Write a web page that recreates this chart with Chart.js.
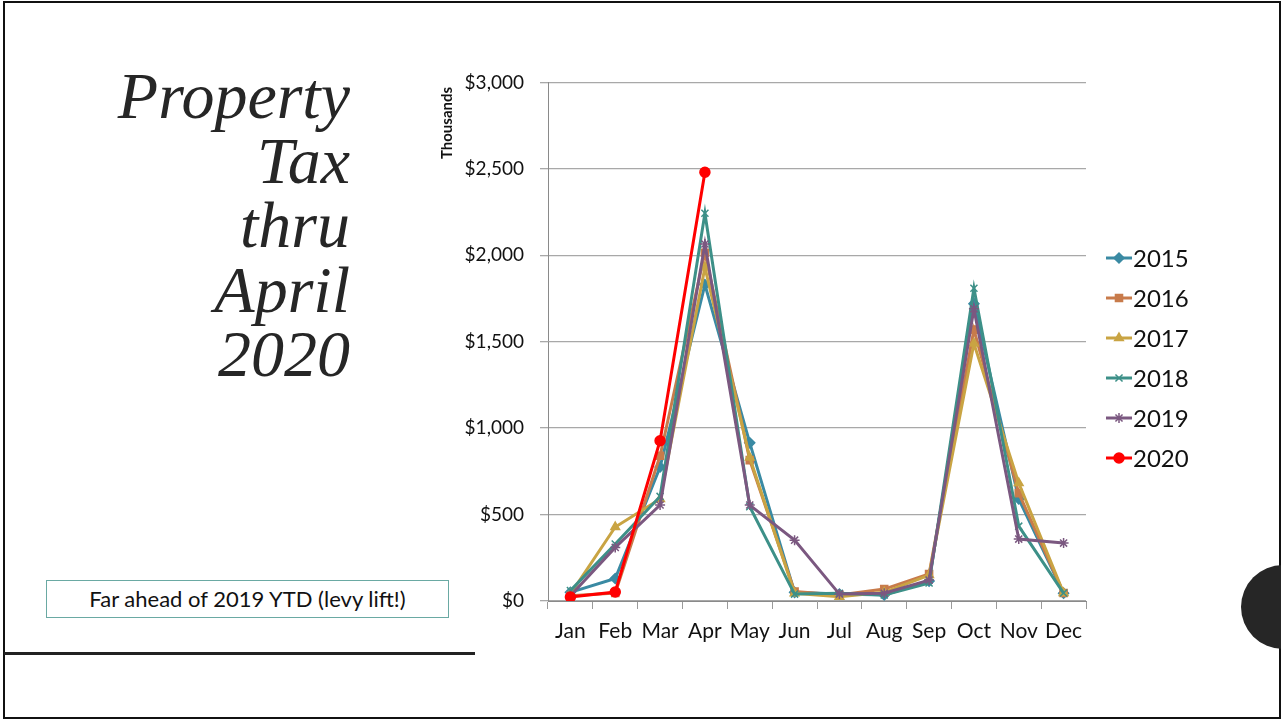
<!DOCTYPE html>
<html>
<head>
<meta charset="utf-8">
<script src="https://cdn.jsdelivr.net/npm/chart.js@4/dist/chart.umd.min.js"></script>
<style>
  html, body { margin: 0; padding: 0; background: #fff; }
  #slide { position: relative; width: 1281px; height: 719px; overflow: hidden; background: #fff; }
  #frame { position: absolute; left: 3px; top: 1px; width: 1274px; height: 714px; border: 2px solid #111; }
  #rule { position: absolute; left: 4px; top: 652px; width: 471px; height: 3px; background: #222; }
  #dot { position: absolute; left: 1241px; top: 565px; width: 84px; height: 84px; border-radius: 50%; background: #262626; }
  #title { position: absolute; right: 931px; top: 64px; text-align: right; font-family: "Liberation Serif", serif; font-style: italic; font-size: 66px; line-height: 64.5px; color: #262626; }
  #note { position: absolute; left: 46px; top: 580px; width: 403px; height: 38px; border: 1px solid #6aa9a3; box-sizing: border-box; font-family: Lato, sans-serif; font-size: 22px; line-height: 36px; text-align: center; color: #111; }
  #wrap { position: absolute; left: 420px; top: 55px; width: 861px; height: 605px; }
</style>
</head>
<body>
<div id="slide">
  <div id="frame"></div>
  <div id="rule"></div>
  <div id="title">Property<br>Tax<br>thru<br>April<br>2020</div>
  <div id="note">Far ahead of 2019 YTD (levy lift!)</div>
  <div id="wrap"><canvas id="taxChart" width="861" height="605"></canvas></div>
  <div id="dot"></div>
</div>
<script>
const meses = ["Jan", "Feb", "Mar", "Apr", "May", "Jun", "Jul", "Aug", "Sep", "Oct", "Nov", "Dec"];
const anios = ["2015", "2016", "2017", "2018", "2019", "2020"];
const y2015 = [50, 130, 775, 1830, 915, 50, 40, 35, 115, 1720, 590, 45];
const y2016 = [30, 46, 840, 2015, 815, 55, 35, 69, 156, 1570, 624, 46];
const y2017 = [40, 428, 590, 1930, 830, 45, 25, 50, 150, 1490, 682, 46];
const y2018 = [60, 330, 605, 2243, 545, 40, 45, 35, 104, 1809, 433, 46];
const y2019 = [30, 310, 555, 2065, 555, 352, 40, 45, 121, 1690, 358, 335];
const y2020 = [23, 52, 927, 2480];
const yTicks = [0, 500, 1000, 1500, 2000, 2500, 3000];

const colores = ["#3a8aa3", "#c87b4b", "#c9a443", "#3d9088", "#7b5880", "#ff0000"];
const marcas = ["rectRot", "rect", "triangle", "crossRot", "star", "circle"];
const series = [y2015, y2016, y2017, y2018, y2019, y2020];

// leyenda a la derecha con linea + marcador, y el rotulo "Thousands" arriba del eje
const leyendaLateral = {
    id: "leyendaLateral",
    afterDraw(chart) {
        const { ctx } = chart;
        ctx.save();
        ctx.font = "24px Lato";
        ctx.textBaseline = "middle";
        chart.data.datasets.forEach((ds, i) => {
            const y = 203 + i * 40;
            ctx.strokeStyle = ds.borderColor;
            ctx.fillStyle = ds.borderColor;
            ctx.lineWidth = 3;
            ctx.beginPath();
            ctx.moveTo(686, y);
            ctx.lineTo(712, y);
            ctx.stroke();
            ctx.lineWidth = 1.5;
            Chart.helpers.drawPoint(ctx, { pointStyle: ds.pointStyle, radius: 5, rotation: 0, borderWidth: 1.5 }, 699, y);
            ctx.fillStyle = "#111";
            ctx.fillText(ds.label, 713, y + 1);
        });
        ctx.translate(27, 68);
        ctx.rotate(-Math.PI / 2);
        ctx.font = "bold 15px Lato";
        ctx.textAlign = "center";
        ctx.fillText("Thousands", 0, 0);
        ctx.restore();
    }
};

new Chart(document.getElementById("taxChart"), {
    type: "line",
    plugins: [leyendaLateral],
    data: {
        labels: meses,
        datasets: anios.map((anio, i) => ({
            label: anio,
            data: series[i],
            borderColor: colores[i],
            backgroundColor: colores[i],
            pointStyle: marcas[i],
            pointRadius: 5,
            pointBorderWidth: 1.5,
            borderWidth: 3,
            tension: 0,
            fill: false,
            order: 5 - i
        }))
    },
    options: {
        responsive: false,
        animation: false,
        layout: { padding: { top: 13, right: 195, left: 0, bottom: 0 } },
        plugins: { legend: { display: false }, tooltip: { enabled: false } },
        scales: {
            x: {
                offset: true,
                grid: { offset: true, drawOnChartArea: false, tickLength: 8, color: "#9a9a9a" },
                border: { color: "#8a8a8a" },
                ticks: { font: { family: "Lato", size: 21 }, color: "#111", padding: 10, maxRotation: 0, minRotation: 0, autoSkip: false },
                afterFit(scale) { scale.height = 59; }
            },
            y: {
                min: 0,
                max: 3000,
                afterBuildTicks(scale) { scale.ticks = yTicks.map((v) => ({ value: v })); },
                grid: { color: "#a8a8a8", tickLength: 8, lineWidth: 1.3 },
                border: { color: "#8a8a8a" },
                ticks: {
                    font: { family: "Lato", size: 19 },
                    color: "#111",
                    padding: 16,
                    callback: (v) => "$" + Number(v).toLocaleString("en-US")
                },
                afterFit(scale) { scale.width = 128; }
            }
        }
    }
});
</script>
</body>
</html>
